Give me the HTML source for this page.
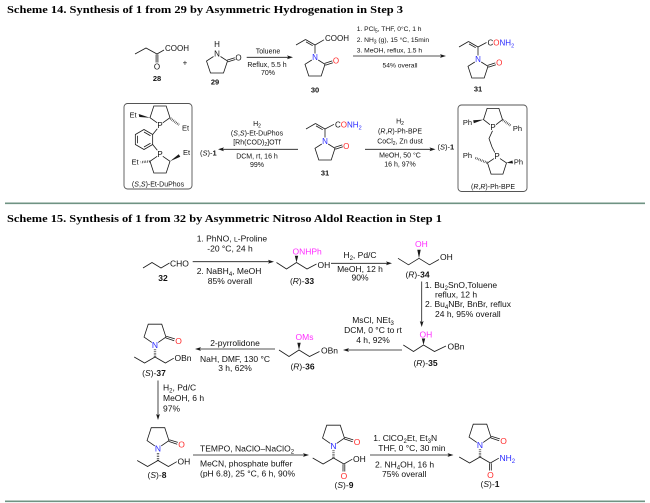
<!DOCTYPE html>
<html><head><meta charset="utf-8">
<style>
html,body{margin:0;padding:0;background:#fff;}
body{width:650px;height:503px;overflow:hidden;}
svg{display:block}
text{font-family:"Liberation Sans",Arial,sans-serif;fill:#111;}
.r{font-size:7px}
.r6{font-size:6.7px}
.a{font-size:8px}
.e{font-size:7.5px}
.L{font-size:7.5px;font-weight:bold}
.s{font-size:8.5px}
.Ls{font-size:8.5px;font-weight:bold}
.N{fill:#2a2aff}
.O{fill:#ff2a2a}
.M{fill:#ff2cff}
.k{stroke:#1a1a1a;stroke-width:0.8;fill:none}
.h{stroke:#1a1a1a;stroke-width:2.4;stroke-dasharray:0.6 1.1;fill:none}
.f{fill:#1a1a1a;stroke:none}
.tt{font-family:"Liberation Serif","Times New Roman",serif;font-weight:bold;font-size:10.5px;fill:#000}
</style></head>
<body>
<svg width="650" height="503" viewBox="0 0 650 503" xmlns="http://www.w3.org/2000/svg">

<!-- ================= Scheme 14 ================= -->
<text class="tt" x="7" y="13" textLength="396" lengthAdjust="spacingAndGlyphs">Scheme 14. Synthesis of 1 from 29 by Asymmetric Hydrogenation in Step 3</text>

<!-- 28 -->
<polyline class="k" points="135,54 146,48 157,54 164,50"/>
<line class="k" x1="156.1" y1="54.5" x2="156.1" y2="62.5"/>
<line class="k" x1="157.9" y1="54.5" x2="157.9" y2="62.5"/>
<text class="a" x="157" y="69.5" text-anchor="middle">O</text>
<text class="a" x="165" y="51">COOH</text>
<text class="L" x="157" y="81" text-anchor="middle">28</text>

<text class="a" x="185" y="65.5" text-anchor="middle">+</text>

<!-- 29 -->
<text class="a" x="217" y="47" text-anchor="middle">H</text>
<text class="a" x="217" y="56.3" text-anchor="middle">N</text>
<polyline class="k" points="220.5,56.5 227.5,61 223.5,73 210.5,73 206.5,61 213.5,56.5"/>
<line class="k" x1="227.2" y1="60.1" x2="234.8" y2="57.7"/>
<line class="k" x1="227.8" y1="61.9" x2="235.4" y2="59.5"/>
<text class="a" x="238.5" y="60.3" text-anchor="middle">O</text>
<text class="L" x="215" y="84.3" text-anchor="middle">29</text>

<!-- arrow 1 -->
<line class="k" x1="246.7" y1="57.3" x2="289" y2="57.3"/>
<polygon class="f" points="293,57.3 287,55.4 288.3,57.3 287,59.2"/>
<text class="r" x="268" y="53.5" text-anchor="middle">Toluene</text>
<text class="r" x="267" y="66.8" text-anchor="middle">Reflux, 5.5 h</text>
<text class="r" x="268" y="74.8" text-anchor="middle">70%</text>

<!-- 30 -->
<text class="a N" x="315" y="59.8" text-anchor="middle">N</text>
<polyline class="k" points="318.2,60 325,64.3 321.2,76 308.8,76 305,64.3 311.8,60"/>
<line class="k" x1="324.7" y1="63.4" x2="332.3" y2="60.9"/>
<line class="k" x1="325.3" y1="65.2" x2="332.9" y2="62.7"/>
<text class="a O" x="336" y="63.3" text-anchor="middle">O</text>
<line class="k" x1="315" y1="53.5" x2="315" y2="45"/>
<line class="k" x1="315" y1="45" x2="305.5" y2="39.5"/>
<line class="k" x1="312.7" y1="45.7" x2="306" y2="41.9"/>
<line class="k" x1="305.5" y1="39.5" x2="296" y2="45"/>
<line class="k" x1="315" y1="45" x2="324" y2="39.8"/>
<text class="a" x="325" y="40.8">COOH</text>
<text class="L" x="315" y="92.5" text-anchor="middle">30</text>

<!-- arrow 2 -->
<line class="k" x1="353" y1="56" x2="442" y2="56"/>
<polygon class="f" points="446,56 440,54.1 441.3,56 440,57.9"/>
<text class="r6" x="356.7" y="31">1. PCl<tspan font-size="5" dy="1.5">5</tspan><tspan dy="-1.5">, THF, 0°C, 1 h</tspan></text>
<text class="r6" x="356.7" y="42">2. NH<tspan font-size="5" dy="1.5">3</tspan><tspan dy="-1.5"> (g), 15 °C, 15min</tspan></text>
<text class="r6" x="356.7" y="52.5">3. MeOH, reflux, 1.5 h</text>
<text class="r6" x="400" y="67.5" text-anchor="middle">54% overall</text>

<!-- 31 top -->
<text class="a N" x="478" y="61.8" text-anchor="middle">N</text>
<polyline class="k" points="481.2,62 488,66.3 484.2,78 471.8,78 468,66.3 474.8,62"/>
<line class="k" x1="487.7" y1="65.4" x2="495.3" y2="62.9"/>
<line class="k" x1="488.3" y1="67.2" x2="495.9" y2="64.7"/>
<text class="a O" x="499.3" y="65.3" text-anchor="middle">O</text>
<line class="k" x1="478" y1="55.5" x2="478" y2="47"/>
<line class="k" x1="478" y1="47" x2="468.5" y2="41.5"/>
<line class="k" x1="475.7" y1="47.7" x2="469" y2="43.9"/>
<line class="k" x1="468.5" y1="41.5" x2="459" y2="47"/>
<line class="k" x1="478" y1="47" x2="486.5" y2="42.5"/>
<text class="a" x="487.5" y="45.5">C<tspan class="O">O</tspan><tspan class="N">NH</tspan><tspan class="N" font-size="5.5" dy="1.8">2</tspan></text>
<text class="L" x="478" y="91.5" text-anchor="middle">31</text>

<!-- DuPhos box -->
<rect x="124" y="103.5" width="68" height="85.5" rx="3.5" fill="none" stroke="#555" stroke-width="0.9"/>
<polygon class="k" points="152.66,134.5 152.66,144.5 144,149.5 135.34,144.5 135.34,134.5 144,129.5"/>
<line class="k" x1="137.6" y1="135.8" x2="137.6" y2="143.2"/>
<line class="k" x1="144" y1="132" x2="150.5" y2="135.75"/>
<line class="k" x1="150.5" y1="143.25" x2="144" y2="147"/>
<line class="k" x1="152.66" y1="134.5" x2="157.3" y2="128.8"/>
<text class="a" x="160" y="127.8" text-anchor="middle">P</text>
<polyline class="k" points="157.2,122.8 150,117.74 153.83,106 166.17,106 170,117.74 162.8,122.8"/>
<polygon class="f" points="150,117.74 139.3,117 138.7,114"/>
<text class="e" x="133" y="117.6" text-anchor="middle">Et</text>
<line class="h" x1="170.5" y1="118.5" x2="179" y2="124.8"/>
<text class="e" x="185.5" y="130.6" text-anchor="middle">Et</text>
<line class="k" x1="152.66" y1="144.5" x2="157.3" y2="150.3"/>
<text class="a" x="160" y="156.8" text-anchor="middle">P</text>
<polyline class="k" points="162.8,156.3 170,161.26 166.17,173 153.83,173 150,161.26 157.2,156.3"/>
<polygon class="f" points="170,161.26 180.3,156.8 178.7,154.2"/>
<text class="e" x="186.5" y="154.8" text-anchor="middle">Et</text>
<line class="h" x1="149.5" y1="161.4" x2="140.8" y2="162.2"/>
<text class="e" x="135" y="164.5" text-anchor="middle">Et</text>
<text class="r" x="158" y="186.5" text-anchor="middle">(<tspan font-style="italic">S</tspan>,<tspan font-style="italic">S</tspan>)-Et-DuPhos</text>

<!-- (S)-1 left + arrow -->
<text class="e" x="200" y="155.3">(<tspan font-style="italic">S</tspan>)-<tspan font-weight="bold">1</tspan></text>
<line class="k" x1="222" y1="149.3" x2="298" y2="149.3"/>
<polygon class="f" points="218,149.3 224,147.4 222.7,149.3 224,151.2"/>
<text class="r" x="257" y="125.8" text-anchor="middle">H<tspan font-size="5" dy="1.5">2</tspan></text>
<text class="r" x="257" y="135.3" text-anchor="middle">(<tspan font-style="italic">S</tspan>,<tspan font-style="italic">S</tspan>)-Et-DuPhos</text>
<text class="r" x="257" y="144.3" text-anchor="middle">[Rh(COD)<tspan font-size="5" dy="1.5">2</tspan><tspan dy="-1.5">]OTf</tspan></text>
<text class="r" x="257" y="158.5" text-anchor="middle">DCM, rt, 16 h</text>
<text class="r" x="257" y="166.8" text-anchor="middle">99%</text>

<!-- 31 row 2 -->
<text class="a N" x="325" y="143.8" text-anchor="middle">N</text>
<polyline class="k" points="328.2,144 335,148.3 331.2,160 318.8,160 315,148.3 321.8,144"/>
<line class="k" x1="334.7" y1="147.4" x2="342.3" y2="144.9"/>
<line class="k" x1="335.3" y1="149.2" x2="342.9" y2="146.7"/>
<text class="a O" x="346.3" y="149" text-anchor="middle">O</text>
<line class="k" x1="325" y1="137.5" x2="325" y2="129"/>
<line class="k" x1="325" y1="129" x2="315.5" y2="123.5"/>
<line class="k" x1="322.7" y1="129.7" x2="316" y2="125.9"/>
<line class="k" x1="315.5" y1="123.5" x2="306" y2="129"/>
<line class="k" x1="325" y1="129" x2="334" y2="124.3"/>
<text class="a" x="335" y="127.5">C<tspan class="O">O</tspan><tspan class="N">NH</tspan><tspan class="N" font-size="5.5" dy="1.8">2</tspan></text>
<text class="L" x="325" y="175.5" text-anchor="middle">31</text>

<!-- arrow right -->
<line class="k" x1="365" y1="149.3" x2="431.5" y2="149.3"/>
<polygon class="f" points="435.5,149.3 429.5,147.4 430.8,149.3 429.5,151.2"/>
<text class="r" x="400" y="123.3" text-anchor="middle">H<tspan font-size="5" dy="1.5">2</tspan></text>
<text class="r" x="400" y="133.7" text-anchor="middle">(<tspan font-style="italic">R</tspan>,<tspan font-style="italic">R</tspan>)-Ph-BPE</text>
<text class="r" x="400" y="143.3" text-anchor="middle">CoCl<tspan font-size="5" dy="1.5">2</tspan><tspan dy="-1.5">, Zn dust</tspan></text>
<text class="r" x="400" y="157.5" text-anchor="middle">MeOH, 50 °C</text>
<text class="r" x="400" y="166.5" text-anchor="middle">16 h, 97%</text>
<text class="e" x="437.5" y="149.3">(<tspan font-style="italic">S</tspan>)-<tspan font-weight="bold">1</tspan></text>

<!-- BPE box -->
<rect x="458" y="105" width="69" height="86.5" rx="3.5" fill="none" stroke="#555" stroke-width="0.9"/>
<text class="a" x="493" y="129.8" text-anchor="middle">P</text>
<polyline class="k" points="490,124.7 483.5,119.6 487.1,108.4 498.9,108.4 502.5,119.6 496,124.7"/>
<polygon class="f" points="483.5,119.6 473.8,123.3 473.2,120.3"/>
<text class="e" x="467.5" y="125" text-anchor="middle">Ph</text>
<line class="h" x1="503" y1="120.2" x2="511" y2="125.8"/>
<text class="e" x="517.5" y="131" text-anchor="middle">Ph</text>
<polyline class="k" points="492.5,130.8 489,138.5 492,147 494.8,152.5"/>
<text class="a" x="497" y="158.8" text-anchor="middle">P</text>
<polyline class="k" points="500,158.6 506.5,162.9 502.9,174.1 491.1,174.1 487.5,162.9 494,158.6"/>
<line class="h" x1="487" y1="162.6" x2="474.5" y2="157.6"/>
<text class="e" x="467.5" y="158" text-anchor="middle">Ph</text>
<polygon class="f" points="506.5,162.9 513,163.5 512.4,160.5"/>
<text class="e" x="518.5" y="164.5" text-anchor="middle">Ph</text>
<text class="r" x="493" y="189" text-anchor="middle">(<tspan font-style="italic">R</tspan>,<tspan font-style="italic">R</tspan>)-Ph-BPE</text>

<!-- ================= Scheme 15 ================= -->
<line x1="5" y1="203.3" x2="645" y2="203.3" stroke="#6f9383" stroke-width="1.6"/>
<text class="tt" x="7" y="222" textLength="435" lengthAdjust="spacingAndGlyphs">Scheme 15. Synthesis of 1 from 32 by Asymmetric Nitroso Aldol Reaction in Step 1</text>

<!-- 32 -->
<polyline class="k" points="143,268 152,262.5 161,268 169.5,263"/>
<text class="s" x="170" y="266.3">CHO</text>
<text class="Ls" x="163" y="281" text-anchor="middle">32</text>

<!-- arrow PhNO -->
<line class="k" x1="192.7" y1="261.7" x2="270" y2="261.7"/>
<polygon class="f" points="274,261.7 268,259.8 269.3,261.7 268,263.6"/>
<text class="s" x="196.7" y="241.3">1. PhNO, <tspan font-size="6.8">L</tspan>-Proline</text>
<text class="s" x="230" y="251.3" text-anchor="middle">-20 °C, 24 h</text>
<text class="s" x="196.7" y="274">2. NaBH<tspan font-size="6" dy="2">4</tspan><tspan dy="-2">, MeOH</tspan></text>
<text class="s" x="230" y="284" text-anchor="middle">85% overall</text>

<!-- 33 -->
<polyline class="k" points="276.5,262.5 286.5,269 296.5,262.5 307,269 316.5,264"/>
<polygon class="f" points="296.5,262.5 294.8,255.8 298.2,255.8"/>
<text class="s M" x="292.5" y="254.5">ONHPh</text>
<text class="s" x="317.5" y="268">OH</text>
<text class="s" x="302" y="284" text-anchor="middle">(<tspan font-style="italic">R</tspan>)-<tspan font-weight="bold">33</tspan></text>

<!-- arrow H2 Pd/C -->
<line class="k" x1="331" y1="263.3" x2="388" y2="263.3"/>
<polygon class="f" points="392,263.3 386,261.4 387.3,263.3 386,265.2"/>
<text class="s" x="360" y="258" text-anchor="middle">H<tspan font-size="6" dy="2">2</tspan><tspan dy="-2">, Pd/C</tspan></text>
<text class="s" x="360" y="272" text-anchor="middle">MeOH, 12 h</text>
<text class="s" x="360" y="280.5" text-anchor="middle">90%</text>

<!-- 34 -->
<polyline class="k" points="398,258.3 408.5,264.8 419,258.3 429.5,264.8 439,259.5"/>
<polygon class="f" points="419,258.3 417.3,249.8 420.7,249.8"/>
<text class="s M" x="415" y="247">OH</text>
<text class="s" x="440" y="260">OH</text>
<text class="s" x="417.5" y="277.5" text-anchor="middle">(<tspan font-style="italic">R</tspan>)-<tspan font-weight="bold">34</tspan></text>

<!-- vertical arrow 34 -> 35 -->
<line class="k" x1="421.7" y1="281.5" x2="421.7" y2="323"/>
<polygon class="f" points="421.7,327 419.8,321 421.7,322.3 423.6,321"/>
<text class="s" x="424.8" y="288">1. Bu<tspan font-size="6" dy="2">2</tspan><tspan dy="-2">SnO,Toluene</tspan></text>
<text class="s" x="435" y="297.5">reflux, 12 h</text>
<text class="s" x="425" y="307">2. Bu<tspan font-size="6" dy="2">4</tspan><tspan dy="-2">NBr, BnBr, reflux</tspan></text>
<text class="s" x="435" y="317">24 h, 95% overall</text>

<!-- 35 -->
<polyline class="k" points="403.3,345 413.5,351.5 423.5,345 434.5,351.5 446,346"/>
<polygon class="f" points="423.5,345 421.8,338.5 425.2,338.5"/>
<text class="s M" x="419.5" y="337.5">OH</text>
<text class="s" x="447.5" y="349.5">OBn</text>
<text class="s" x="425.5" y="366" text-anchor="middle">(<tspan font-style="italic">R</tspan>)-<tspan font-weight="bold">35</tspan></text>

<!-- arrow MsCl -->
<line class="k" x1="347" y1="350" x2="402" y2="350"/>
<polygon class="f" points="343,350 349,348.1 347.7,350 349,351.9"/>
<text class="s" x="373" y="322.8" text-anchor="middle">MsCl, NEt<tspan font-size="6" dy="2">3</tspan></text>
<text class="s" x="373" y="332.8" text-anchor="middle">DCM, 0 °C to rt</text>
<text class="s" x="373" y="342.8" text-anchor="middle">4 h, 92%</text>

<!-- 36 -->
<polyline class="k" points="279,350 289,356.5 299,350 309.5,356.5 319.5,351.5"/>
<polygon class="f" points="299,350 297.3,342.8 300.7,342.8"/>
<text class="s M" x="295.5" y="340">OMs</text>
<text class="s" x="321" y="353.5">OBn</text>
<text class="s" x="302.5" y="369.5" text-anchor="middle">(<tspan font-style="italic">R</tspan>)-<tspan font-weight="bold">36</tspan></text>

<!-- arrow 2-pyrrolidone -->
<line class="k" x1="199" y1="349" x2="275" y2="349"/>
<polygon class="f" points="195,349 201,347.1 199.7,349 201,350.9"/>
<text class="s" x="235" y="346" text-anchor="middle">2-pyrrolidone</text>
<text class="s" x="235" y="362" text-anchor="middle">NaH, DMF, 130 °C</text>
<text class="s" x="235" y="371" text-anchor="middle">3 h, 62%</text>

<!-- 37 -->
<text class="s N" x="155" y="348" text-anchor="middle">N</text>
<polyline class="k" points="151.8,342.4 144.06,337.05 148.24,324.2 161.76,324.2 165.94,337.05 158.2,342.4"/>
<line class="k" x1="165.66" y1="337.9" x2="174.2" y2="340.7"/>
<line class="k" x1="166.22" y1="336.2" x2="174.8" y2="338.9"/>
<text class="s O" x="178.5" y="344" text-anchor="middle">O</text>
<line class="h" x1="155" y1="349.5" x2="155" y2="357"/>
<polyline class="k" points="155,357 144.6,363 134.2,357"/>
<polyline class="k" points="155,357 165.4,363 173.8,358.2"/>
<text class="s" x="174.5" y="361">OBn</text>
<text class="s" x="154" y="376" text-anchor="middle">(<tspan font-style="italic">S</tspan>)-<tspan font-weight="bold">37</tspan></text>

<!-- vertical arrow 37 -> 8 -->
<line class="k" x1="158" y1="380.5" x2="158" y2="416"/>
<polygon class="f" points="158,420 156.1,414 158,415.3 159.9,414"/>
<text class="s" x="163" y="390.5">H<tspan font-size="6" dy="2">2</tspan><tspan dy="-2">, Pd/C</tspan></text>
<text class="s" x="163" y="401">MeOH, 6 h</text>
<text class="s" x="163" y="411.5">97%</text>

<!-- 8 -->
<text class="s N" x="158" y="451.5" text-anchor="middle">N</text>
<polyline class="k" points="154.8,445.9 147.06,440.55 151.24,427.7 164.76,427.7 168.94,440.55 161.2,445.9"/>
<line class="k" x1="168.66" y1="441.4" x2="177.2" y2="444.2"/>
<line class="k" x1="169.22" y1="439.7" x2="177.8" y2="442.4"/>
<text class="s O" x="181.5" y="447.5" text-anchor="middle">O</text>
<line class="h" x1="158" y1="453" x2="158" y2="460.5"/>
<polyline class="k" points="158,460.5 147.6,466.5 137.2,460.5"/>
<polyline class="k" points="158,460.5 168.4,466.5 176.8,461.7"/>
<text class="s" x="177.5" y="464.5">OH</text>
<text class="s" x="157" y="478" text-anchor="middle">(<tspan font-style="italic">S</tspan>)-<tspan font-weight="bold">8</tspan></text>

<!-- arrow TEMPO -->
<line class="k" x1="193" y1="455" x2="305" y2="455"/>
<polygon class="f" points="309,455 303,453.1 304.3,455 303,456.9"/>
<text class="s" x="200" y="451.3">TEMPO, NaClO–NaClO<tspan font-size="6" dy="2">2</tspan></text>
<text class="s" x="200" y="466.3">MeCN, phosphate buffer</text>
<text class="s" x="200" y="476.3">(pH 6.8), 25 °C, 6 h, 90%</text>

<!-- 9 -->
<text class="s N" x="333.5" y="449" text-anchor="middle">N</text>
<polyline class="k" points="330.3,443.4 322.56,438.05 326.74,425.2 340.26,425.2 344.44,438.05 336.7,443.4"/>
<line class="k" x1="344.16" y1="438.9" x2="352.7" y2="441.7"/>
<line class="k" x1="344.72" y1="437.2" x2="353.3" y2="439.9"/>
<text class="s O" x="357" y="445" text-anchor="middle">O</text>
<line class="h" x1="333.5" y1="450.5" x2="333.5" y2="458"/>
<polyline class="k" points="333.5,458 323.1,464 312.7,458"/>
<line class="k" x1="333.5" y1="458" x2="343.9" y2="464"/>
<line class="k" x1="343" y1="464.3" x2="343" y2="471.5"/>
<line class="k" x1="344.8" y1="464.3" x2="344.8" y2="471.5"/>
<text class="s O" x="343.9" y="479" text-anchor="middle">O</text>
<line class="k" x1="343.9" y1="464" x2="352.3" y2="459.2"/>
<text class="s" x="353" y="462">OH</text>
<text class="s" x="344" y="488" text-anchor="middle">(<tspan font-style="italic">S</tspan>)-<tspan font-weight="bold">9</tspan></text>

<!-- arrow ClCO2Et -->
<line class="k" x1="370" y1="455" x2="449.5" y2="455"/>
<polygon class="f" points="453.5,455 447.5,453.1 448.8,455 447.5,456.9"/>
<text class="s" x="373.3" y="441">1. ClCO<tspan font-size="6" dy="2">2</tspan><tspan dy="-2">Et, Et</tspan><tspan font-size="6" dy="2">3</tspan><tspan dy="-2">N</tspan></text>
<text class="s" x="378.3" y="451">THF, 0 °C, 30 min</text>
<text class="s" x="375" y="467.5">2. NH<tspan font-size="6" dy="2">4</tspan><tspan dy="-2">OH, 16 h</tspan></text>
<text class="s" x="382" y="477">75% overall</text>

<!-- (S)-1 -->
<text class="s N" x="480" y="448" text-anchor="middle">N</text>
<polyline class="k" points="476.8,442.4 469.06,437.05 473.24,424.2 486.76,424.2 490.94,437.05 483.2,442.4"/>
<line class="k" x1="490.66" y1="437.9" x2="499.2" y2="440.7"/>
<line class="k" x1="491.22" y1="436.2" x2="499.8" y2="438.9"/>
<text class="s O" x="503.5" y="444" text-anchor="middle">O</text>
<line class="h" x1="480" y1="449.5" x2="480" y2="457"/>
<polyline class="k" points="480,457 469.6,463 459.2,457"/>
<line class="k" x1="480" y1="457" x2="490.4" y2="463"/>
<line class="k" x1="489.5" y1="463.3" x2="489.5" y2="470.5"/>
<line class="k" x1="491.3" y1="463.3" x2="491.3" y2="470.5"/>
<text class="s O" x="490.4" y="478" text-anchor="middle">O</text>
<line class="k" x1="490.4" y1="463" x2="498.8" y2="458.2"/>
<text class="s N" x="499.5" y="461">NH<tspan font-size="6" dy="2">2</tspan></text>
<text class="s" x="490" y="487" text-anchor="middle">(<tspan font-style="italic">S</tspan>)-<tspan font-weight="bold">1</tspan></text>

<!-- bottom rule -->
<line x1="5" y1="501.3" x2="645" y2="501.3" stroke="#6f9383" stroke-width="1.6"/>
</svg>
</body></html>
